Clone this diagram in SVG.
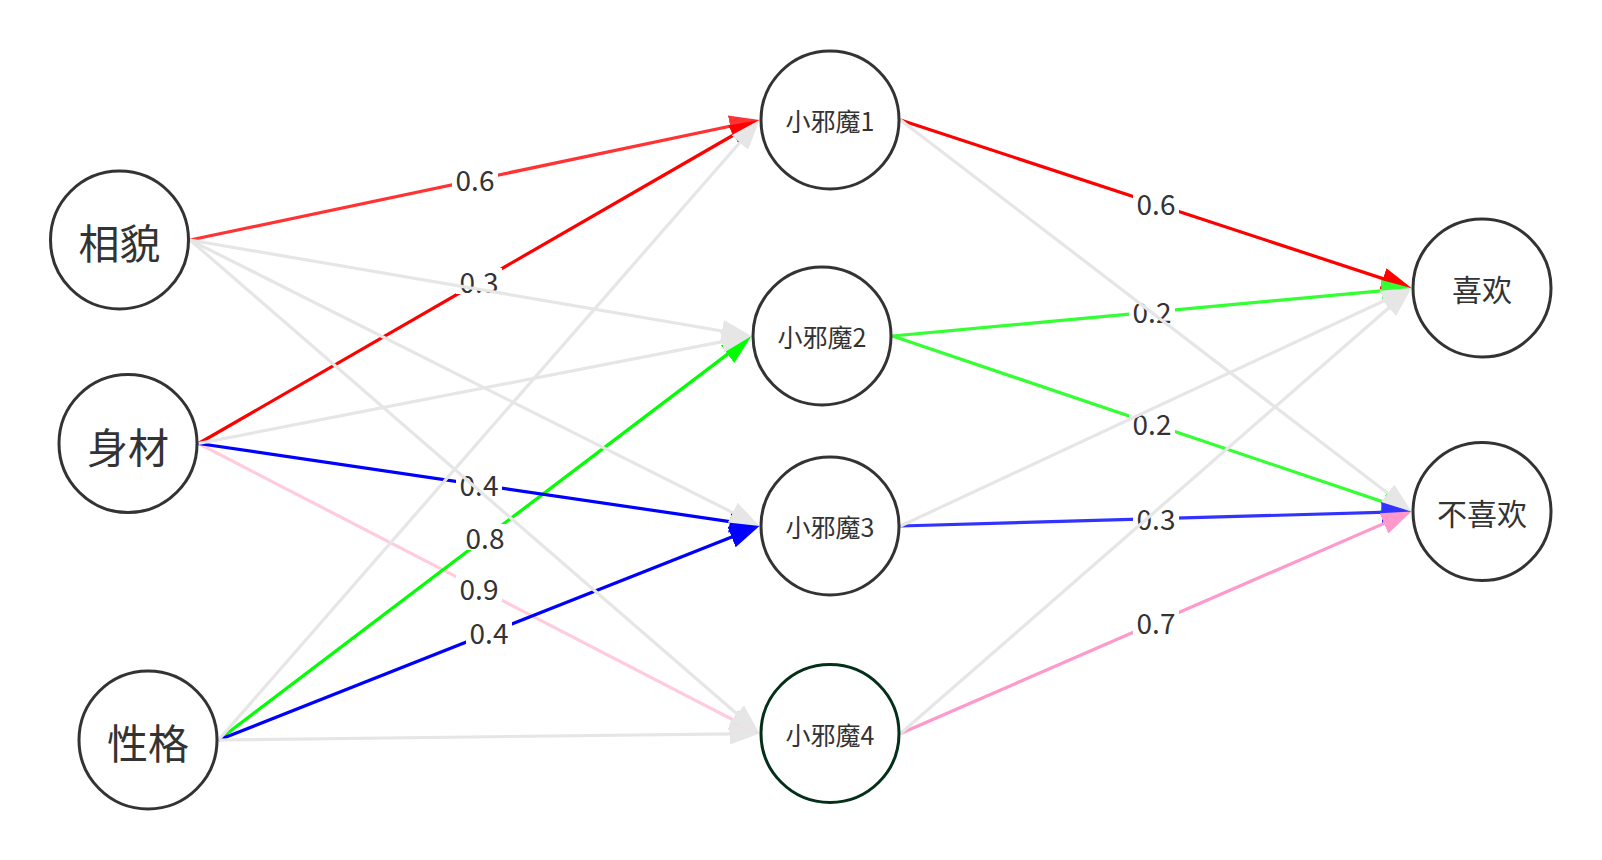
<svg xmlns="http://www.w3.org/2000/svg" width="1602" height="860" viewBox="0 0 1602 860">
<style>
.e{fill:none;stroke-width:3.2}
.g{stroke:#e6e6e6}
.n circle{fill:#fff;stroke:#333;stroke-width:3}
.n text{fill:#333;font-family:"Noto Sans CJK SC","Noto Sans",sans-serif;text-anchor:middle;dominant-baseline:central}
.in{font-size:41px}
.hid{font-size:25px}
.out{font-size:30px}
.lb rect{fill:#fff}
.lb text{fill:#333;font-family:"Noto Sans CJK SC","Noto Sans",sans-serif;font-size:28px;text-anchor:middle;dominant-baseline:central}
</style>
<defs>
<marker id="m-grey" markerUnits="userSpaceOnUse" markerWidth="30" markerHeight="22" viewBox="0 0 30 22" refX="24" refY="11" orient="auto"><path d="M0,0 L30,11 L0,22 z" fill="#e6e6e6"/></marker>
<marker id="m-red1" markerUnits="userSpaceOnUse" markerWidth="30" markerHeight="22" viewBox="0 0 30 22" refX="24" refY="11" orient="auto"><path d="M0,0 L30,11 L0,22 z" fill="#ff3333"/></marker>
<marker id="m-red" markerUnits="userSpaceOnUse" markerWidth="30" markerHeight="22" viewBox="0 0 30 22" refX="24" refY="11" orient="auto"><path d="M0,0 L30,11 L0,22 z" fill="#ff0000"/></marker>
<marker id="m-blue" markerUnits="userSpaceOnUse" markerWidth="30" markerHeight="22" viewBox="0 0 30 22" refX="24" refY="11" orient="auto"><path d="M0,0 L30,11 L0,22 z" fill="#0000ff"/></marker>
<marker id="m-blue2" markerUnits="userSpaceOnUse" markerWidth="30" markerHeight="22" viewBox="0 0 30 22" refX="24" refY="11" orient="auto"><path d="M0,0 L30,11 L0,22 z" fill="#3333ff"/></marker>
<marker id="m-green" markerUnits="userSpaceOnUse" markerWidth="30" markerHeight="22" viewBox="0 0 30 22" refX="24" refY="11" orient="auto"><path d="M0,0 L30,11 L0,22 z" fill="#00ff00"/></marker>
<marker id="m-green2" markerUnits="userSpaceOnUse" markerWidth="30" markerHeight="22" viewBox="0 0 30 22" refX="24" refY="11" orient="auto"><path d="M0,0 L30,11 L0,22 z" fill="#33ff33"/></marker>
<marker id="m-pink1" markerUnits="userSpaceOnUse" markerWidth="30" markerHeight="22" viewBox="0 0 30 22" refX="24" refY="11" orient="auto"><path d="M0,0 L30,11 L0,22 z" fill="#ffccdd"/></marker>
<marker id="m-pink" markerUnits="userSpaceOnUse" markerWidth="30" markerHeight="22" viewBox="0 0 30 22" refX="24" refY="11" orient="auto"><path d="M0,0 L30,11 L0,22 z" fill="#ff99cc"/></marker>
</defs>
<g id="connectors">
<line class="e" stroke="#ffccdd" x1="198.5" y1="443.5" x2="754.17" y2="730.74" marker-end="url(#m-pink1)"/>
<g class="lb"><rect x="456" y="575" width="46" height="26"/><text x="479" y="588">0.9</text></g>
<line class="e" stroke="#ff3333" x1="190" y1="240" x2="753.63" y2="121.24" marker-end="url(#m-red1)"/>
<g class="lb"><rect x="452" y="166" width="46" height="26"/><text x="475" y="179">0.6</text></g>
<line class="e" stroke="#ff0000" x1="198.5" y1="443.5" x2="754.30" y2="123.00" marker-end="url(#m-red)"/>
<g class="lb"><rect x="456" y="268" width="46" height="26"/><text x="479" y="281">0.3</text></g>
<line class="e" stroke="#00ff00" x1="218.5" y1="740" x2="746.72" y2="339.62" marker-end="url(#m-green)"/>
<g class="lb"><rect x="462" y="524" width="46" height="26"/><text x="485" y="537">0.8</text></g>
<line class="e" stroke="#0000ff" x1="198.5" y1="443.5" x2="753.56" y2="525.13" marker-end="url(#m-blue)"/>
<g class="lb"><rect x="456" y="471" width="46" height="26"/><text x="479" y="484">0.4</text></g>
<line class="e" stroke="#0000ff" x1="218.5" y1="740" x2="753.92" y2="528.21" marker-end="url(#m-blue)"/>
<g class="lb"><rect x="466" y="619" width="46" height="26"/><text x="489" y="632">0.4</text></g>
<line class="e" stroke="#ff0000" x1="900.5" y1="120" x2="1405.80" y2="286.13" marker-end="url(#m-red)"/>
<g class="lb"><rect x="1133" y="190" width="46" height="26"/><text x="1156" y="203">0.6</text></g>
<line class="e" stroke="#33ff33" x1="892.5" y1="336" x2="1405.82" y2="509.58" marker-end="url(#m-green2)"/>
<g class="lb"><rect x="1129" y="410" width="46" height="26"/><text x="1152" y="423">0.2</text></g>
<line class="e" stroke="#33ff33" x1="892.5" y1="336" x2="1405.53" y2="288.55" marker-end="url(#m-green2)"/>
<g class="lb"><rect x="1129" y="298" width="46" height="26"/><text x="1152" y="311">0.2</text></g>
<line class="e" stroke="#3333ff" x1="900.5" y1="526" x2="1405.50" y2="511.67" marker-end="url(#m-blue2)"/>
<g class="lb"><rect x="1133" y="505" width="46" height="26"/><text x="1156" y="518">0.3</text></g>
<line class="e" stroke="#ff99cc" x1="900.5" y1="733.5" x2="1405.99" y2="513.89" marker-end="url(#m-pink)"/>
<g class="lb"><rect x="1133" y="608.5" width="46" height="26"/><text x="1156" y="621.5">0.7</text></g>
<line class="e g" x1="190" y1="240" x2="745.59" y2="334.99" marker-end="url(#m-grey)"/>
<line class="e g" x1="190" y1="240" x2="754.14" y2="523.31" marker-end="url(#m-grey)"/>
<line class="e g" x1="190" y1="240" x2="754.97" y2="729.57" marker-end="url(#m-grey)"/>
<line class="e g" x1="198.5" y1="443.5" x2="745.61" y2="337.14" marker-end="url(#m-grey)"/>
<line class="e g" x1="218.5" y1="740" x2="755.56" y2="124.52" marker-end="url(#m-grey)"/>
<line class="e g" x1="218.5" y1="740" x2="753.50" y2="733.57" marker-end="url(#m-grey)"/>
<line class="e g" x1="900.5" y1="120" x2="1406.74" y2="507.85" marker-end="url(#m-grey)"/>
<line class="e g" x1="900.5" y1="526" x2="1406.06" y2="290.53" marker-end="url(#m-grey)"/>
<line class="e g" x1="900.5" y1="733.5" x2="1406.98" y2="291.94" marker-end="url(#m-grey)"/>
</g>
<g id="node-xiangmao" class="n"><circle cx="119.5" cy="240" r="69"/><text class="in" x="119.5" y="241">相貌</text></g>
<g id="node-shencai" class="n"><circle cx="128" cy="443.5" r="69"/><text class="in" x="128" y="444.5">身材</text></g>
<g id="node-xingge" class="n"><circle cx="148" cy="740" r="69"/><text class="in" x="148" y="741">性格</text></g>
<g id="node-h1" class="n"><circle cx="830" cy="120" r="69"/><text class="hid" x="830" y="120">小邪魔1</text></g>
<g id="node-h2" class="n"><circle cx="822" cy="336" r="69"/><text class="hid" x="822" y="336">小邪魔2</text></g>
<g id="node-h3" class="n"><circle cx="830" cy="526" r="69"/><text class="hid" x="830" y="526">小邪魔3</text></g>
<g id="node-h4" class="n"><circle cx="830" cy="733.5" r="69" style="stroke:#04301a"/><text class="hid" x="830" y="733.5">小邪魔4</text></g>
<g id="node-like" class="n"><circle cx="1482" cy="288" r="69"/><text class="out" x="1482" y="288">喜欢</text></g>
<g id="node-dislike" class="n"><circle cx="1482" cy="511.5" r="69"/><text class="out" x="1482" y="511.5">不喜欢</text></g>
</svg>
